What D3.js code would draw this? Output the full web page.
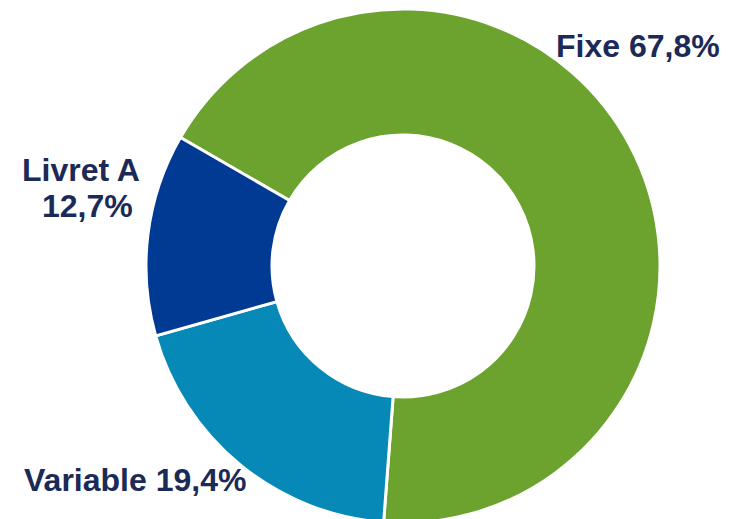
<!DOCTYPE html>
<html>
<head>
<meta charset="utf-8">
<script src="https://cdn.jsdelivr.net/npm/d3@7"></script>
<style>
  html, body { margin: 0; padding: 0; background: #ffffff; }
  svg { display: block; }
  .label { font-family: "Liberation Sans", Arial, sans-serif; font-weight: 700; font-size: 32px; fill: #1b2a56; }
</style>
</head>
<body>
<svg id="chart" width="740" height="519"></svg>
<script>
// Répartition de l'encours par type de taux
const categories = ["Fixe", "Variable", "Livret A"];
const values = [67.8, 19.4, 12.7];
const colors = ["#6ca32f", "#0689b6", "#003a92"];
const labelLines = [["Fixe 67,8%"], ["Variable 19,4%"], ["Livret A", "12,7%"]];

// Label anchor positions (left edge, first baseline)
const labelPos = {
  "Fixe": [556, 57],
  "Variable": [24, 491],
  "Livret A": [[22, 181], [42, 217]]
};

const width = 740, height = 519;
const cx = 403, cy = 266;
const outerR = 257, innerR = 131;

const svg = d3.select("#chart");

const pie = d3.pie()
  .sort(null)
  .value(d => d.value)
  .startAngle(-Math.PI / 3)
  .endAngle(-Math.PI / 3 + 2 * Math.PI);

const arc = d3.arc().innerRadius(innerR).outerRadius(outerR);

const data = categories.map((c, i) => ({ name: c, value: values[i], color: colors[i] }));

const g = svg.append("g").attr("transform", `translate(${cx},${cy})`);

g.selectAll("path")
  .data(pie(data))
  .join("path")
  .attr("d", arc)
  .attr("fill", d => d.data.color)
  .attr("stroke", "#ffffff")
  .attr("stroke-width", 3)
  .attr("stroke-linejoin", "miter");

// Labels
categories.forEach((c, i) => {
  const lines = labelLines[i];
  const pos = labelPos[c];
  lines.forEach((t, j) => {
    const p = Array.isArray(pos[0]) ? pos[j] : pos;
    svg.append("text")
      .attr("class", "label")
      .attr("x", p[0])
      .attr("y", p[1])
      .text(t);
  });
});
</script>
</body>
</html>
